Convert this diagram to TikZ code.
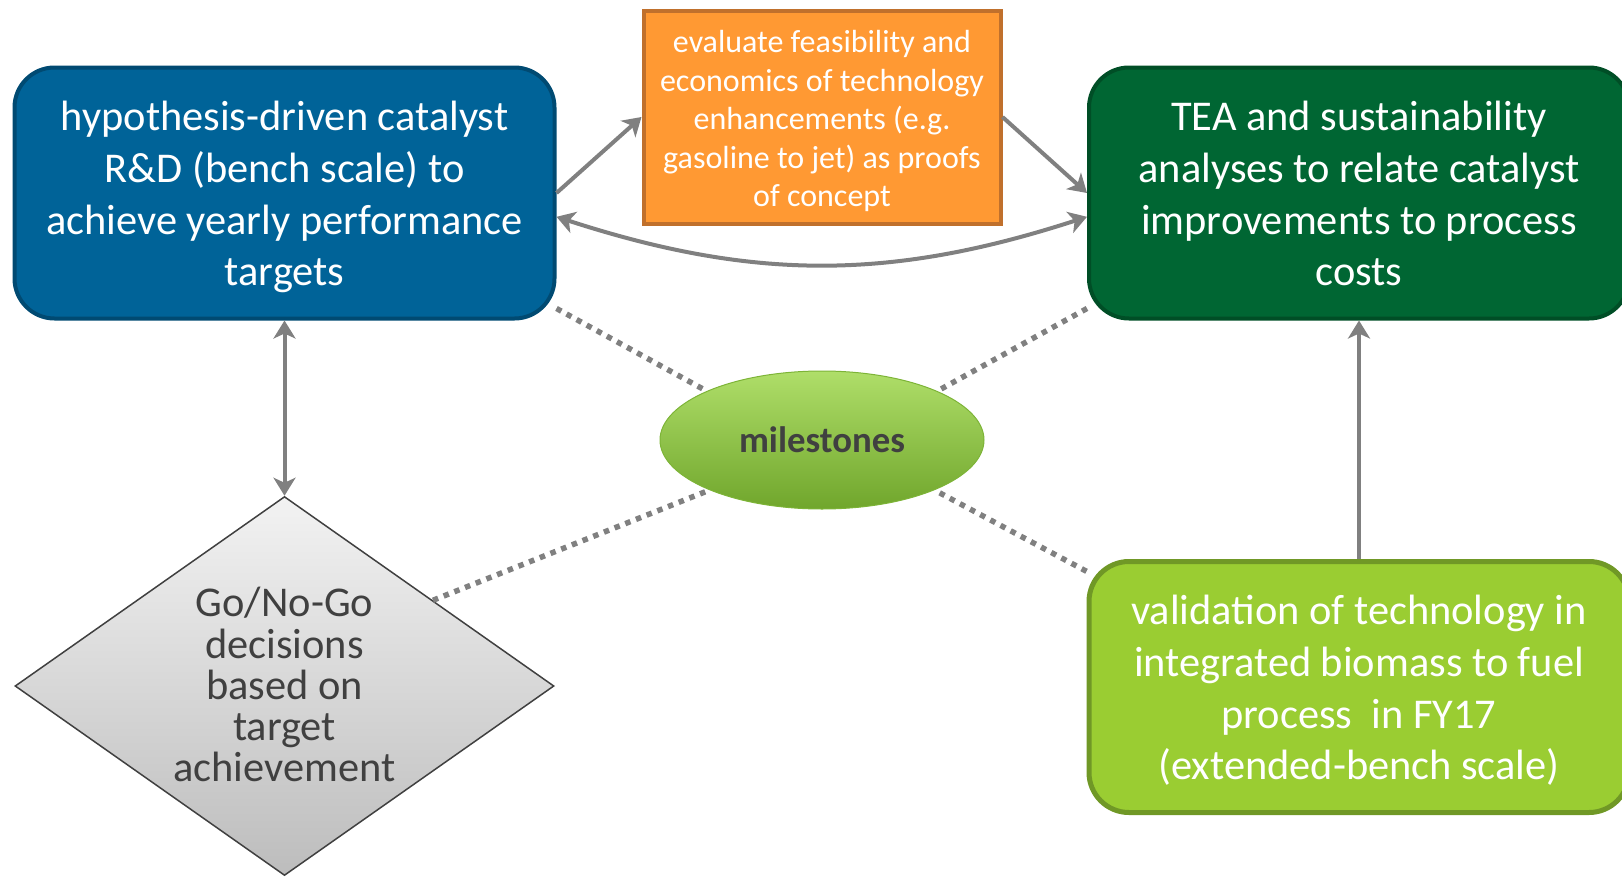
\documentclass[tikz,border=0pt]{standalone}
\usepackage{fontspec}
\setmainfont{Carlito}
\usepackage{xcolor}
\usepackage{tikz}
\usetikzlibrary{calc}
\usetikzlibrary{shapes,arrows,positioning,calc}
\usetikzlibrary{shapes.geometric}
\usetikzlibrary{arrows.meta}

\definecolor{rdblue}{RGB}{0,99,152}
\definecolor{rdblueline}{RGB}{0,74,114}
\definecolor{evorange}{RGB}{255,153,51}
\definecolor{evorangeline}{RGB}{192,112,44}
\definecolor{teagreen}{RGB}{0,102,51}
\definecolor{teagreenline}{RGB}{0,78,38}
\definecolor{valgreen}{RGB}{154,205,50}
\definecolor{valgreenline}{RGB}{112,152,38}
\definecolor{arrowgray}{RGB}{128,128,128}
\definecolor{textgray}{RGB}{64,64,64}

\newcommand{\topstrut}{\rule{0pt}{\dimexpr0.7\baselineskip+10pt\relax}}

\begin{document}
\begin{tikzpicture}[x=1pt,y=-1pt,
	roundbox/.style={draw,line width=4pt,rounded corners=40pt,minimum width=540pt,minimum height=251pt,inner sep=0pt,align=center,text=white,font=\fontsize{42.4}{51.7}\selectfont},
	flow/.style={draw=arrowgray,line width=4pt,-{Stealth[length=18pt,width=22pt,inset=5pt]}},
	dotline/.style={draw=arrowgray,line width=5.5pt,dash pattern=on 5.5pt off 6pt}]
	\useasboundingbox (0,0) rectangle (1622,878);
	\node[roundbox,fill=rdblue,draw=rdblueline] (rd) at (284.5,193) {\topstrut hypothesis-driven catalyst\\R\&D (bench scale) to\\achieve yearly performance\\targets\strut};
	\node[roundbox,fill=teagreen,draw=teagreenline] (tea) at (1359,193) {\topstrut TEA and sustainability\\analyses to relate catalyst\\improvements to process\\costs\strut};
	\node[roundbox,fill=valgreen,draw=valgreenline,line width=5pt] (val) at (1359,687) {\topstrut validation of technology in\\integrated biomass to fuel\\process\ \ in FY17\\(extended-bench scale)\strut};
	\node[draw=evorangeline,fill=evorange,line width=4pt,minimum width=357pt,minimum height=213pt,inner sep=0pt,align=center,text=white,font=\fontsize{32}{38.4}\selectfont] (eval) at (822,117) {\topstrut evaluate feasibility and\\economics of technology\\enhancements (e.g.\\gasoline to jet) as proofs\\of concept\strut};
	\node[diamond,aspect=1.42,draw=textgray,line width=1.5pt,top color=black!5,bottom color=black!26,minimum width=539pt,minimum height=379pt,inner sep=0pt,align=center,text=textgray,font=\fontsize{42.4}{41.2}\selectfont] (gng) at (284.5,686) {\topstrut Go/No-Go\\decisions\\based on\\target\\achievement\strut};
	\node[ellipse,draw={rgb,255:red,125;green,180;blue,55},line width=1pt,top color={rgb,255:red,175;green,222;blue,105},middle color={rgb,255:red,141;green,200;blue,68},bottom color={rgb,255:red,112;green,166;blue,44},minimum width=324pt,minimum height=138pt,inner sep=0pt,text=textgray,font=\fontsize{36.8}{44}\selectfont\bfseries] (ms) at (822,440) {milestones};
	\draw[flow] (rd.east) -- (eval.west);
	\draw[flow] (eval.east) -- (tea.west);
	\draw[flow,{Stealth[length=18pt,width=22pt,inset=5pt]}-{Stealth[length=18pt,width=22pt,inset=5pt]}] (rd.-5.5) to[bend right=18] (tea.185.5);
	\draw[flow,{Stealth[length=18pt,width=22pt,inset=5pt]}-{Stealth[length=18pt,width=22pt,inset=5pt]}] (rd.south) -- (gng.north);
	\draw[flow] (val.north) -- (tea.south);
	\draw[dotline] (rd.-23) -- (ms.157);
	\draw[dotline] (tea.203) -- (ms.23);
	\draw[dotline] (gng.30) -- (ms.204);
	\draw[dotline] (val.157) -- (ms.-24);
\end{tikzpicture}
\end{document}
